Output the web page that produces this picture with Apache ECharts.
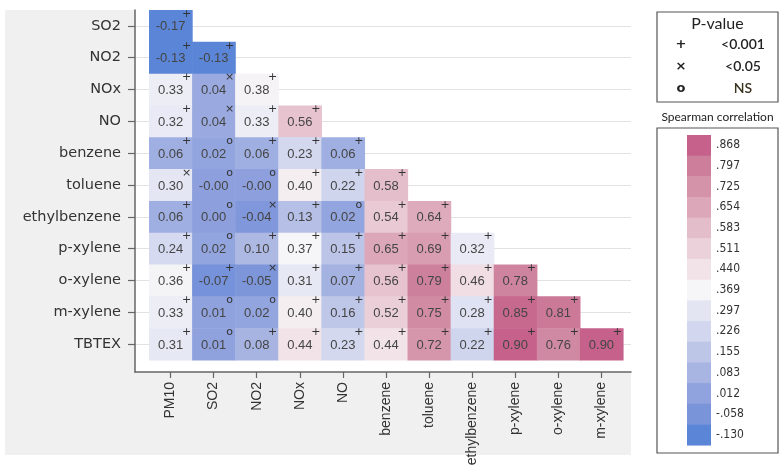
<!DOCTYPE html>
<html><head><meta charset="utf-8">
<script src="https://cdn.jsdelivr.net/npm/echarts@6/dist/echarts.min.js"></script>
<style>html,body{margin:0;padding:0;background:#fff}#c{width:784px;height:469px}</style>
</head><body><div id="c"></div>
<script>
// ---- data ----
const xCategories = ['PM10','SO2','NO2','NOx','NO','benzene','toluene','ethylbenzene','p-xylene','o-xylene','m-xylene'];
const yCategories = ['SO2','NO2','NOx','NO','benzene','toluene','ethylbenzene','p-xylene','o-xylene','m-xylene','TBTEX'];
// Spearman correlations, lower triangle, row by row (row = yCategories, column = xCategories)
const corrRows = [
  [-0.17],
  [-0.13,-0.13],
  [0.33,0.04,0.38],
  [0.32,0.04,0.33,0.56],
  [0.06,0.02,0.06,0.23,0.06],
  [0.30,-0.00,-0.00,0.40,0.22,0.58],
  [0.06,0.00,-0.04,0.13,0.02,0.54,0.64],
  [0.24,0.02,0.10,0.37,0.15,0.65,0.69,0.32],
  [0.36,-0.07,-0.05,0.31,0.07,0.56,0.79,0.46,0.78],
  [0.33,0.01,0.02,0.40,0.16,0.52,0.75,0.28,0.85,0.81],
  [0.31,0.01,0.08,0.44,0.23,0.44,0.72,0.22,0.90,0.76,0.90]
];
// significance: 0 = p<0.001 (+), 1 = p<0.05 (x), 2 = NS (o)
const sigRows = [
  [0],
  [0,0],
  [0,1,0],
  [0,1,0,0],
  [0,2,0,0,0],
  [1,2,2,0,0,0],
  [0,2,1,0,2,0,0],
  [0,2,0,0,0,0,0,0],
  [0,0,1,0,0,0,0,0,0],
  [0,2,2,0,0,0,0,0,0,0],
  [0,2,0,0,0,0,0,0,0,0,0]
];
const sigSymbols = ['+','×','o'];
const sigLabels = ['<0.001','<0.05','NS'];
// colour scale (low -> high) and its legend tick labels (high -> low)
const scaleColors = ['#5b86d7','#7a94da','#91a3de','#a8b5e2','#bec6e8','#d2d7ef','#e3e5f3','#f6f6f8','#f2e3e8','#ebd1da','#e4bdca','#dca7b8','#d493a9','#cc7e9a','#c5618a'];
const scaleTicks = ['.868','.797','.725','.654','.583','.511','.440','.369','.297','.226','.155','.083','.012','-.058','-.130'];
const scaleMin = -0.130, scaleMax = 0.868;

// ---- build ----
const cellData = [];
corrRows.forEach((row, yi) => row.forEach((v, xi) => cellData.push([xi, yi, v, sigRows[yi][xi]])));
function fmt(v){ return (v < 0 || Object.is(v, -0)) ? '-' + Math.abs(v).toFixed(2) : v.toFixed(2); }

const idx = a => a.map((_, i) => i);
const chart = echarts.init(document.getElementById('c'), null, {renderer:'canvas'});

function renderCell(params, api){
  const xi = api.value(0), yi = api.value(1);
  const a = api.coord([xi - 0.5, yi - 0.5]), b = api.coord([xi + 0.5, yi + 0.5]);
  const c = api.coord([xi, yi]);
  const x0 = Math.min(a[0], b[0]), y0 = Math.min(a[1], b[1]);
  const w = Math.abs(b[0] - a[0]), h = Math.abs(b[1] - a[1]);
  return {type:'group', children:[
    {type:'rect', shape:{x:x0, y:y0, width:w + 0.6, height:h + 0.6}, style:{fill:api.visual('color')}},
    {type:'text', x:c[0], y:c[1] + 1, style:{text:fmt(corrRows[yi][xi]), fill:'#454545', font:'13px "Liberation Sans", Arial, sans-serif', align:'center', verticalAlign:'middle'}},
    {type:'text', x:c[0] + 16, y:c[1] - 12, style:{text:sigSymbols[api.value(3)], fill:'#333', font:'11px "DejaVu Sans", sans-serif', align:'center', verticalAlign:'middle'}}
  ]};
}

// legend graphics
const legendEls = [];
const boxL = 657, boxR = 778;
legendEls.push({type:'rect', shape:{x:boxL, y:12, width:boxR - boxL, height:90}, style:{fill:'#fff', stroke:'#555', lineWidth:1.2}});
legendEls.push({type:'text', x:(boxL + boxR)/2, y:24, style:{text:'P-value', fill:'#222', font:'16px Lato, sans-serif', align:'center', verticalAlign:'middle'}});
sigSymbols.forEach((s, i) => {
  legendEls.push({type:'text', x:681, y:45 + i*22, style:{text:s, fill:'#222', font:'bold 13px "DejaVu Sans", sans-serif', align:'center', verticalAlign:'middle'}});
  legendEls.push({type:'text', x:743, y:44 + i*22, style:{text:sigLabels[i], fill: i === 2 ? '#3a3320' : '#222', font:'600 14px Lato, sans-serif', align:'center', verticalAlign:'middle'}});
});
legendEls.push({type:'text', x:(boxL + boxR)/2, y:117, style:{text:'Spearman correlation', fill:'#222', font:'12px Lato, sans-serif', align:'center', verticalAlign:'middle'}});
legendEls.push({type:'rect', shape:{x:boxL, y:128, width:boxR - boxL, height:325}, style:{fill:'#fff', stroke:'#555', lineWidth:1.2}});
const swTop = 135, swH = 20.67;
scaleTicks.forEach((t, i) => {
  legendEls.push({type:'rect', shape:{x:687, y:swTop + i*swH, width:24, height:swH + 0.5}, style:{fill:scaleColors[scaleColors.length - 1 - i]}});
  legendEls.push({type:'text', x:716, y:swTop + i*swH + swH/2, style:{text:t, fill:'#333', font:'12px "Liberation Sans Narrow", "DejaVu Sans Condensed", sans-serif', align:'left', verticalAlign:'middle'}});
});

chart.setOption({
  animation:false,
  backgroundColor:'#fff',
  graphic:[
    {type:'rect', z:-100, silent:true, shape:{x:5, y:10, width:626, height:445}, style:{fill:'#f0f0f0'}},
    {type:'group', children:legendEls}
  ],
  grid:{left:135, right:153, top:10, bottom:97, show:true, backgroundColor:'#fff', borderWidth:0, containLabel:false},
  xAxis:{
    type:'value', min:-0.825, max:10.686,
    axisLine:{show:true, onZero:false, lineStyle:{color:'#666', width:1.5}},
    axisTick:{show:true, customValues:idx(xCategories), length:6, lineStyle:{color:'#666', width:1.2}},
    axisLabel:{customValues:idx(xCategories), formatter:v => xCategories[Math.round(v)], rotate:90, margin:10, fontSize:14, color:'#333', fontFamily:'"Liberation Sans", Arial, sans-serif'},
    splitLine:{show:false}
  },
  yAxis:{
    type:'value', inverse:true, min:-0.5, max:10.877,
    axisLine:{show:true, onZero:false, lineStyle:{color:'#666', width:1.5}},
    axisTick:{show:true, customValues:idx(yCategories), length:7, lineStyle:{color:'#666', width:1.2}},
    axisLabel:{customValues:idx(yCategories), formatter:v => yCategories[Math.round(v)], margin:14, fontSize:14.5, color:'#333', fontFamily:'"DejaVu Sans", sans-serif'},
    splitLine:{show:true, lineStyle:{color:'#e2e2e2', width:1}}
  },
  visualMap:{show:false, type:'continuous', min:scaleMin, max:scaleMax, dimension:2, seriesIndex:0, inRange:{color:scaleColors}},
  series:[{type:'custom', renderItem:renderCell, data:cellData, encode:{x:0, y:1}, z:3}]
});
</script></body></html>
